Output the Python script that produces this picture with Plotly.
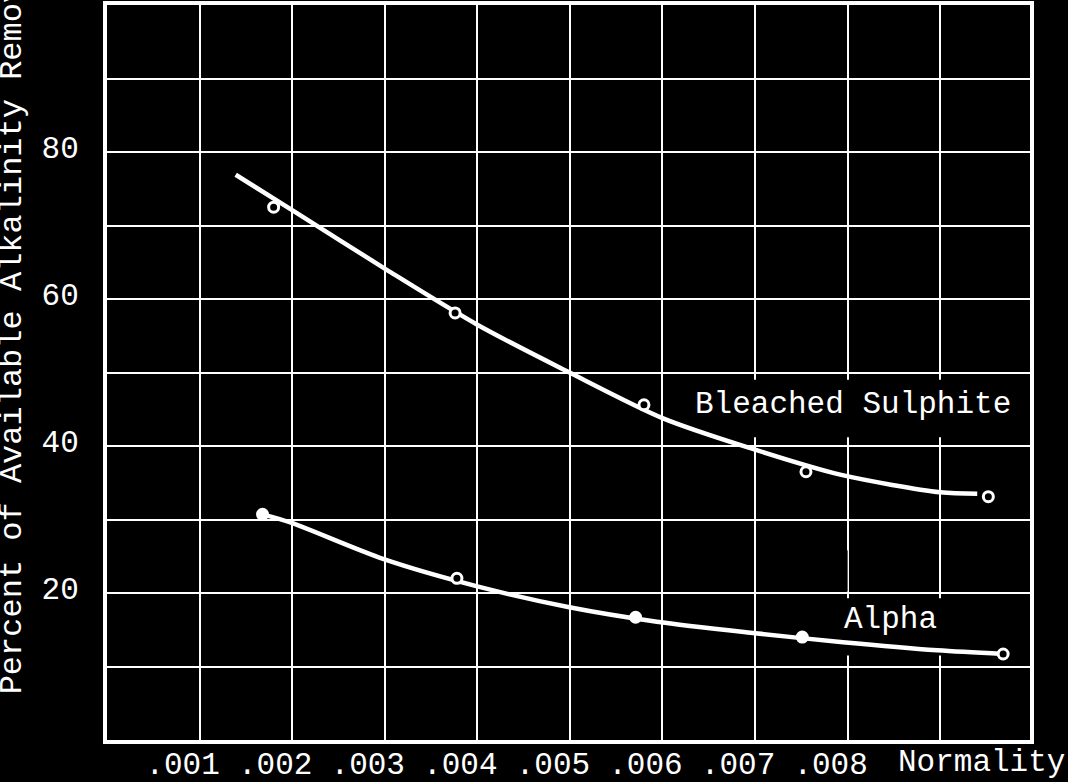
import plotly.graph_objects as go

# ---- data ----
x_tickvals = [0.001, 0.002, 0.003, 0.004, 0.005, 0.006, 0.007, 0.008]
x_ticktext = [".001", ".002", ".003", ".004", ".005", ".006", ".007", ".008"]
y_tickvals = [20, 40, 60, 80]
y_ticktext = ["20", "40", "60", "80"]

# Bleached Sulphite: observed points
bs_x = [0.00180, 0.00376, 0.00580, 0.00755, 0.00952]
bs_y = [72.5, 58.1, 45.6, 36.5, 33.1]
# Bleached Sulphite: smoothed curve drawn through the points
bs_curve_x = [0.00139, 0.00200, 0.00303, 0.00400, 0.00498,
              0.00600, 0.00695, 0.00792, 0.00900, 0.00940]
bs_curve_y = [76.9, 72.1, 63.9, 56.5, 50.1, 43.8, 39.7, 36.1, 33.7, 33.5]

# Alpha: observed points
al_x = [0.00168, 0.00378, 0.00571, 0.00751, 0.00968]
al_y = [30.7, 22.0, 16.7, 14.0, 11.7]
al_filled = [True, False, True, True, False]
# Alpha: smoothed curve
al_curve_x = [0.00168, 0.00198, 0.00299, 0.00400, 0.00498, 0.00594, 0.00695,
              0.00795, 0.00897, 0.00968]
al_curve_y = [30.7, 29.6, 24.6, 20.9, 18.1, 16.1, 14.6, 13.3, 12.2, 11.7]

FONT = "Liberation Mono, Courier New, monospace"
W = "white"

fig = go.Figure()

fig.add_trace(go.Scatter(x=bs_curve_x, y=bs_curve_y, mode="lines",
                         line=dict(color=W, width=4.5, shape="spline", smoothing=0.8),
                         hoverinfo="skip", showlegend=False))
fig.add_trace(go.Scatter(x=al_curve_x, y=al_curve_y, mode="lines",
                         line=dict(color=W, width=4.5, shape="spline", smoothing=0.8),
                         hoverinfo="skip", showlegend=False))
fig.add_trace(go.Scatter(x=bs_x, y=bs_y, mode="markers", name="Bleached Sulphite",
                         marker=dict(symbol="circle", size=10, color="black",
                                     line=dict(color=W, width=3)),
                         showlegend=False))
fig.add_trace(go.Scatter(x=al_x, y=al_y, mode="markers", name="Alpha",
                         marker=dict(symbol="circle", size=10,
                                     color=[W if f else "black" for f in al_filled],
                                     line=dict(color=W, width=3)),
                         showlegend=False))

# black masks that interrupt the grid behind the curve labels
for x0, x1, y0, y1 in [(0.00624, 0.00989, 41.2, 49.0),
                       (0.00787, 0.00909, 11.5, 19.3),
                       (0.00790, 0.00800, 20.2, 25.8)]:
    fig.add_shape(type="rect", xref="x", yref="y", x0=x0, x1=x1, y0=y0, y1=y1,
                  fillcolor="black", line=dict(width=0), layer="between")

fig.add_annotation(x=0.00633, y=45.6, xref="x", yref="y", text="Bleached Sulphite",
                   showarrow=False, xanchor="left", yanchor="middle",
                   font=dict(family=FONT, size=31, color=W))
fig.add_annotation(x=0.00794, y=16.4, xref="x", yref="y", text="Alpha",
                   showarrow=False, xanchor="left", yanchor="middle",
                   font=dict(family=FONT, size=31, color=W))
fig.add_annotation(x=0.855, y=-0.031, xref="paper", yref="paper", text="Normality",
                   showarrow=False, xanchor="left", yanchor="middle",
                   font=dict(family=FONT, size=31, color=W))
fig.add_annotation(x=-0.103, y=0.060, xref="paper", yref="paper",
                   text="Percent of Available Alkalinity Removed", textangle=-90,
                   showarrow=False, xanchor="center", yanchor="bottom",
                   font=dict(family=FONT, size=32, color=W))

fig.update_xaxes(range=[0, 0.00997], tickvals=x_tickvals, ticktext=x_ticktext,
                 showgrid=True, gridcolor=W, gridwidth=2,
                 minor=dict(tickvals=[0.009], showgrid=True, gridcolor=W, gridwidth=2),
                 showline=True, mirror=True, linecolor=W, linewidth=4,
                 ticks="", zeroline=False, ticklabelshift=-17, ticklabelstandoff=-7,
                 automargin=False,
                 tickfont=dict(family=FONT, size=31, color=W))
fig.update_yaxes(range=[0, 100], tickvals=y_tickvals, ticktext=y_ticktext,
                 showgrid=True, gridcolor=W, gridwidth=2,
                 minor=dict(tickvals=[10, 30, 50, 70, 90], showgrid=True, gridcolor=W, gridwidth=2),
                 showline=True, mirror=True, linecolor=W, linewidth=4,
                 ticks="", zeroline=False, ticklabelshift=-5, ticklabelstandoff=18,
                 automargin=False,
                 tickfont=dict(family=FONT, size=31, color=W))

fig.update_layout(width=1068, height=782,
                  margin=dict(l=107, r=38, t=5, b=42, pad=0, autoexpand=False),
                  paper_bgcolor="black", plot_bgcolor="black",
                  showlegend=False, font=dict(family=FONT, color=W))

fig.write_html("out.html")
